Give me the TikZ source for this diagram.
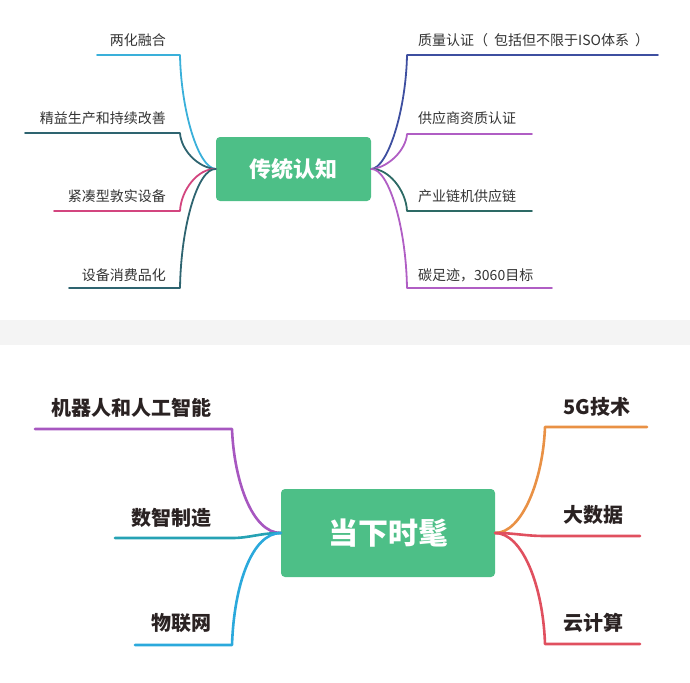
\documentclass[tikz,border=0pt]{standalone}
\usepackage{fontspec}
\newfontfamily\cjk{Noto Sans CJK SC}
\definecolor{mgreen}{HTML}{4DBF87}
\definecolor{band}{HTML}{F4F4F4}
\definecolor{tgray}{HTML}{333333}
\definecolor{tdark}{HTML}{2A2222}
\definecolor{lblue}{HTML}{3AB0DA}
\definecolor{dteal}{HTML}{2E6470}
\definecolor{mpink}{HTML}{D3457F}
\definecolor{indigo}{HTML}{3E4FA0}
\definecolor{mpurple}{HTML}{B05EC4}
\definecolor{dgreen}{HTML}{2D6A65}
\definecolor{bpurple}{HTML}{A757C0}
\definecolor{bteal}{HTML}{26A2B4}
\definecolor{bblue}{HTML}{2BA9DC}
\definecolor{morange}{HTML}{E99145}
\definecolor{mred}{HTML}{E0505F}
\begin{document}
\begin{tikzpicture}[x=1pt,y=-1pt,
  hubbox/.style={fill=mgreen, rounded corners=4pt, text=white, inner sep=0pt},
  toptext/.style={font=\cjk\fontsize{14}{16}\selectfont, text=tgray, inner sep=0pt},
  bottext/.style={font=\cjk\bfseries\fontsize{20}{22}\selectfont, text=tdark, inner sep=0pt},
  tline/.style={line width=1.8pt, line cap=round, line join=round},
  bline/.style={line width=2.6pt, line cap=round, line join=round}]
\useasboundingbox (0,0) rectangle (690,682);
\fill[band] (0,320) rectangle (690,345);

% ---------- top ----------
\node[hubbox, minimum width=155pt, minimum height=64pt,
      font=\cjk\bfseries\fontsize{22}{24}\selectfont] (c1) at (293.5,169) {传统认知};

\node[toptext, anchor=east] (l1) at (166,40) {两化融合};
\node[toptext, anchor=east] (l2) at (166,118) {精益生产和持续改善};
\node[toptext, anchor=east] (l3) at (166,196) {紧凑型敦实设备};
\node[toptext, anchor=east] (l4) at (166,275) {设备消费品化};
\node[toptext, anchor=west] (r1) at (418,40) {质量认证（\hspace{6pt}包括但不限于ISO体系\hspace{6pt}）};
\node[toptext, anchor=west] (r2) at (418,118) {供应商资质认证};
\node[toptext, anchor=west] (r3) at (418,196) {产业链机供应链};
\node[toptext, anchor=west] (r4) at (418,275) {碳足迹，3060目标};

\coordinate (le1) at (180,55);  \coordinate (lx1) at (97,55);
\coordinate (le2) at (180,133); \coordinate (lx2) at (25,133);
\coordinate (le3) at (180,211); \coordinate (lx3) at (54,211);
\coordinate (le4) at (180,288); \coordinate (lx4) at (69,288);
\coordinate (re1) at (407,55);  \coordinate (rx1) at (658,55);
\coordinate (re2) at (407,134); \coordinate (rx2) at (532,134);
\coordinate (re3) at (407,211); \coordinate (rx3) at (532,211);
\coordinate (re4) at (407,288); \coordinate (rx4) at (552,288);

\draw[tline, lblue]  (c1.west) .. controls (198,168) and (181,110) .. (le1) -- (lx1);
\draw[tline, dteal]  (c1.west) .. controls (198,168) and (181,150) .. (le2) -- (lx2);
\draw[tline, mpink]  (c1.west) .. controls (198,168) and (181,190) .. (le3) -- (lx3);
\draw[tline, dteal]  (c1.west) .. controls (198,168) and (181,225) .. (le4) -- (lx4);
\draw[tline, indigo] (c1.east) .. controls (388,168) and (406,110) .. (re1) -- (rx1);
\draw[tline, mpurple](c1.east) .. controls (388,168) and (406,150) .. (re2) -- (rx2);
\draw[tline, dgreen] (c1.east) .. controls (388,168) and (406,190) .. (re3) -- (rx3);
\draw[tline, mpurple](c1.east) .. controls (388,168) and (406,225) .. (re4) -- (rx4);

% ---------- bottom ----------
\node[hubbox, minimum width=214pt, minimum height=88pt,
      font=\cjk\bfseries\fontsize{30}{32}\selectfont] (c2) at (388,533) {当下时髦};

\node[bottext, anchor=east] (bl1) at (212,408) {机器人和人工智能};
\node[bottext, anchor=east] (bl2) at (212,518) {数智制造};
\node[bottext, anchor=east] (bl3) at (212,623) {物联网};
\node[bottext, anchor=west] (br1) at (563,407) {5G技术};
\node[bottext, anchor=west] (br2) at (563,515) {大数据};
\node[bottext, anchor=west] (br3) at (563,623) {云计算};

\coordinate (ble1) at (232,429); \coordinate (blx1) at (35,429);
\coordinate (ble2) at (232,538); \coordinate (blx2) at (115,538);
\coordinate (ble3) at (232,645); \coordinate (blx3) at (135,645);
\coordinate (bre1) at (545,427); \coordinate (brx1) at (647,427);
\coordinate (bre2) at (545,536); \coordinate (brx2) at (640,536);
\coordinate (bre3) at (545,644); \coordinate (brx3) at (640,644);

\draw[bline, bpurple] (c2.west) .. controls (252,533) and (234,480) .. (ble1) -- (blx1);
\draw[bline, bteal]   (c2.west) .. controls (260,533) and (250,538) .. (ble2) -- (blx2);
\draw[bline, bblue]   (c2.west) .. controls (252,533) and (234,585) .. (ble3) -- (blx3);
\draw[bline, morange] (c2.east) .. controls (522,533) and (543,480) .. (bre1) -- (brx1);
\draw[bline, mred]    (c2.east) .. controls (515,533) and (525,536) .. (bre2) -- (brx2);
\draw[bline, mred]    (c2.east) .. controls (522,533) and (543,585) .. (bre3) -- (brx3);
\end{tikzpicture}
\end{document}
